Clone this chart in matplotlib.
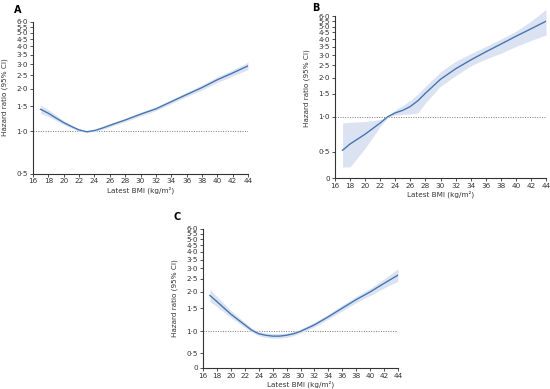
import numpy as np
import matplotlib
matplotlib.use("Agg")
import matplotlib.pyplot as plt

# BMI grid and hazard ratios
bmi_a = [17, 18, 19, 20, 21, 22, 23, 24, 25, 26, 28, 30, 32, 34, 36, 38, 40, 42, 44]
hr_a = [1.43, 1.34, 1.24, 1.15, 1.08, 1.02, 0.99, 1.01, 1.05, 1.10, 1.20, 1.32, 1.44, 1.62, 1.82, 2.04, 2.32, 2.59, 2.91]
lo_a = [1.33, 1.27, 1.19, 1.11, 1.05, 1.00, 0.98, 0.99, 1.03, 1.07, 1.17, 1.28, 1.40, 1.57, 1.76, 1.96, 2.22, 2.46, 2.74]
hi_a = [1.53, 1.42, 1.30, 1.19, 1.11, 1.04, 1.00, 1.03, 1.08, 1.13, 1.23, 1.36, 1.49, 1.67, 1.89, 2.13, 2.43, 2.73, 3.10]

bmi_b = [17, 18, 20, 22, 23, 24, 25, 26, 27, 28, 30, 32, 34, 36, 38, 40, 42, 44]
hr_b = [0.52, 0.61, 0.75, 0.91, 1.00, 1.07, 1.12, 1.20, 1.33, 1.52, 1.95, 2.35, 2.75, 3.18, 3.65, 4.20, 4.80, 5.50]
lo_b = [0.21, 0.21, 0.55, 0.86, 0.99, 1.03, 1.04, 1.05, 1.07, 1.28, 1.72, 2.08, 2.48, 2.80, 3.10, 3.50, 3.90, 4.30]
hi_b = [0.91, 0.92, 0.93, 0.96, 1.01, 1.13, 1.22, 1.34, 1.50, 1.72, 2.23, 2.69, 3.08, 3.50, 4.00, 4.60, 5.50, 6.80]

bmi_c = [17, 18, 20, 22, 23, 24, 25, 26, 27, 28, 29, 30, 32, 34, 36, 38, 40, 42, 44]
hr_c = [1.87, 1.68, 1.35, 1.12, 1.02, 0.945, 0.91, 0.89, 0.89, 0.91, 0.945, 1.00, 1.12, 1.29, 1.50, 1.74, 1.99, 2.31, 2.67]
lo_c = [1.68, 1.54, 1.27, 1.07, 0.98, 0.90, 0.86, 0.84, 0.84, 0.86, 0.90, 0.96, 1.08, 1.24, 1.43, 1.65, 1.87, 2.13, 2.40]
hi_c = [2.08, 1.84, 1.44, 1.17, 1.06, 0.99, 0.96, 0.95, 0.95, 0.96, 0.99, 1.04, 1.17, 1.35, 1.58, 1.84, 2.12, 2.50, 2.98]

y_ticks_a = [0.5, 1.0, 1.5, 2.0, 2.5, 3.0, 3.5, 4.0, 4.5, 5.0, 5.5, 6.0]
y_labels_a = ["0·5", "1·0", "1·5", "2·0", "2·5", "3·0", "3·5", "4·0", "4·5", "5·0", "5·5", "6·0"]
y_ticks_bc = [0] + y_ticks_a
y_labels_bc = ["0"] + y_labels_a
x_ticks = list(range(16, 46, 2))

line_col = "#4675b2"
band_col = "#dbe3f2"


def make_scale(v0, v05):
    def fwd(y):
        y = np.asarray(y, float)
        low = np.interp(y, [0, 0.5, 1], [v0, v05, 0])
        low = np.where(y < 0, v0 + y * (v05 - v0) / 0.5, low)
        return np.where(y >= 1, np.log(np.maximum(y, 1e-9)), low)

    def inv(v):
        v = np.asarray(v, float)
        low = np.interp(v, [v0, v05, 0], [0, 0.5, 1])
        low = np.where(v < v0, (v - v0) * 0.5 / (v05 - v0), low)
        return np.where(v >= 0, np.exp(np.minimum(v, 50)), low)

    return fwd, inv


fig = plt.figure(figsize=(5.5, 3.89), dpi=100)
plt.rcParams['font.family'] = ['DejaVu Sans']


def style(ax, ticks, labels, top):
    ax.set_xlim(16, 44)
    ax.set_xticks(x_ticks)
    ax.set_yticks(ticks)
    ax.set_yticklabels(labels)
    ax.yaxis.set_minor_locator(matplotlib.ticker.NullLocator())
    for s in ["top", "right"]:
        ax.spines[s].set_visible(False)
    for s in ["left", "bottom"]:
        ax.spines[s].set_linewidth(0.8)
        ax.spines[s].set_color("#333333")
    ax.spines["left"].set_bounds(ticks[0], top)
    ax.tick_params(direction="out", length=2.5, width=0.6, labelsize=5.2,
                   colors="#333333", pad=1)
    ax.set_xlabel("Latest BMI (kg/m\u00b2)", fontsize=5.2, labelpad=1.5, color="#333333")
    ax.set_ylabel("Hazard ratio (95% CI)", fontsize=5.2, labelpad=3, color="#333333")
    ax.axhline(1.0, color="#777777", lw=0.7, ls=(0, (1, 1.5)), zorder=1)
    ax.patch.set_alpha(0)


# Panel A
ax_a = fig.add_axes([33 / 550, 1 - 173.5 / 389, 215 / 550, 151.8 / 389])
ax_a.set_yscale("log")
ax_a.fill_between(bmi_a, lo_a, hi_a, color=band_col, lw=0, zorder=2)
ax_a.plot(bmi_a, hr_a, color=line_col, lw=1.0, zorder=3)
ax_a.set_ylim(0.5, 6.0)
style(ax_a, y_ticks_a, y_labels_a, 6.0)
ax_a.yaxis.set_label_coords(-0.115, 0.5)

# Panel B
fwd_b, inv_b = make_scale(-1.095, -0.625)
ax_b = fig.add_axes([335 / 550, 1 - 178 / 389, 211 / 550, 170.3 / 389])
ax_b.set_yscale("function", functions=(fwd_b, inv_b))
ax_b.fill_between(bmi_b, lo_b, hi_b, color=band_col, lw=0, zorder=2)
ax_b.plot(bmi_b, hr_b, color=line_col, lw=1.0, zorder=3)
ax_b.set_ylim(0, 7.0)
style(ax_b, y_ticks_bc, y_labels_bc, 6.0)
ax_b.yaxis.set_label_coords(-0.12, 0.53)

# Panel C
fwd_c, inv_c = make_scale(-0.64, -0.379)
ax_c = fig.add_axes([203 / 550, 1 - 368 / 389, 195 / 550, 139.3 / 389])
ax_c.set_yscale("function", functions=(fwd_c, inv_c))
ax_c.fill_between(bmi_c, lo_c, hi_c, color=band_col, lw=0, zorder=2)
ax_c.plot(bmi_c, hr_c, color=line_col, lw=1.0, zorder=3)
ax_c.set_ylim(0, 6.0)
style(ax_c, y_ticks_bc, y_labels_bc, 6.0)
ax_c.yaxis.set_label_coords(-0.13, 0.5)

fig.text(14 / 550, 1 - 10 / 389, "A", fontsize=7, fontweight="bold", ha="left", va="center")
fig.text(312 / 550, 1 - 8 / 389, "B", fontsize=7, fontweight="bold", ha="left", va="center")
fig.text(174 / 550, 1 - 217 / 389, "C", fontsize=7, fontweight="bold", ha="left", va="center")

fig.savefig("out.png", dpi=100)
